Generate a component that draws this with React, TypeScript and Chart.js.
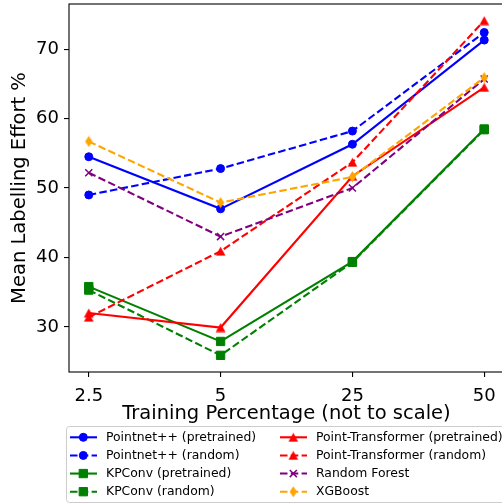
import React, { useEffect, useRef } from 'react';
import { Chart, registerables } from 'chart.js';
import { drawPoint } from 'chart.js/helpers';

Chart.register(...registerables);

const categories = ['2.5', '5', '25', '50'];
const yTicks = [30, 40, 50, 60, 70];

const pointnetPretrained = [54.5, 47.0, 56.3, 71.3];
const pointnetRandom = [49.0, 52.8, 58.2, 72.4];
const kpconvPretrained = [35.8, 27.9, 39.4, 58.5];
const kpconvRandom = [35.3, 25.9, 39.3, 58.4];
const ptPretrained = [32.0, 29.9, 51.7, 64.5];
const ptRandom = [31.4, 40.9, 53.7, 74.1];
const randomForest = [52.2, 43.0, 50.0, 65.7];
const xgboost = [56.7, 47.9, 51.6, 65.9];

const FONT = 'DejaVu Sans';
const DASH = [7.5, 3.3];

function makeTriangle(color: string) {
  const c = document.createElement('canvas');
  c.width = 11;
  c.height = 10;
  const g = c.getContext('2d')!;
  g.fillStyle = color;
  g.beginPath();
  g.moveTo(5.5, 0.5);
  g.lineTo(10.4, 9.5);
  g.lineTo(0.6, 9.5);
  g.closePath();
  g.fill();
  return c;
}

function makeThinDiamond(color: string) {
  const c = document.createElement('canvas');
  c.width = 9;
  c.height = 12;
  const g = c.getContext('2d')!;
  g.fillStyle = color;
  g.beginPath();
  g.moveTo(4.5, 0.6);
  g.lineTo(8.2, 6);
  g.lineTo(4.5, 11.4);
  g.lineTo(0.8, 6);
  g.closePath();
  g.fill();
  return c;
}

type Series = {
  label: string;
  values: number[];
  color: string;
  dashed: boolean;
  marker: string;
};

const series: Series[] = [
  { label: 'Pointnet++ (pretrained)', values: pointnetPretrained, color: '#0000ff', dashed: false, marker: 'circle' },
  { label: 'Pointnet++ (random)', values: pointnetRandom, color: '#0000ff', dashed: true, marker: 'circle' },
  { label: 'KPConv (pretrained)', values: kpconvPretrained, color: '#008000', dashed: false, marker: 'rect' },
  { label: 'KPConv (random)', values: kpconvRandom, color: '#008000', dashed: true, marker: 'rect' },
  { label: 'Point-Transformer (pretrained)', values: ptPretrained, color: '#ff0000', dashed: false, marker: 'triangle' },
  { label: 'Point-Transformer (random)', values: ptRandom, color: '#ff0000', dashed: true, marker: 'triangle' },
  { label: 'Random Forest', values: randomForest, color: '#800080', dashed: true, marker: 'crossRot' },
  { label: 'XGBoost', values: xgboost, color: '#ffa500', dashed: true, marker: 'diamond' },
];

function markerProps(marker: string, color: string) {
  if (marker === 'circle') return { pointStyle: 'circle', radius: 4, borderWidth: 1 };
  if (marker === 'rect') return { pointStyle: 'rect', radius: 5.9, borderWidth: 1 };
  if (marker === 'triangle') return { pointStyle: makeTriangle(color), radius: 5, borderWidth: 0 };
  if (marker === 'crossRot') return { pointStyle: 'crossRot', radius: 5, borderWidth: 1.5 };
  return { pointStyle: makeThinDiamond(color), radius: 5, borderWidth: 0 };
}

const framePlugin = {
  id: 'frame',
  afterDatasetsDraw(chart: any) {
    const { ctx, chartArea } = chart;
    ctx.save();
    ctx.strokeStyle = '#000';
    ctx.lineWidth = 1.1;
    ctx.strokeRect(chartArea.left, chartArea.top, chartArea.right - chartArea.left, chartArea.bottom - chartArea.top);
    ctx.restore();
  },
};

const legendPlugin = {
  id: 'customLegend',
  afterDraw(chart: any) {
    const { ctx } = chart;
    ctx.save();
    ctx.fillStyle = 'rgba(255,255,255,0.8)';
    ctx.strokeStyle = '#cccccc';
    ctx.lineWidth = 1;
    ctx.beginPath();
    (ctx as any).roundRect(66.5, 426.5, 445, 76, 3);
    ctx.fill();
    ctx.stroke();
    chart.data.datasets.forEach((ds: any, k: number) => {
      const col = Math.floor(k / 4);
      const row = k % 4;
      const x0 = col === 0 ? 70 : 280;
      const y = 437.3 + row * 18.13;
      ctx.strokeStyle = ds.borderColor;
      ctx.lineWidth = ds.borderWidth;
      ctx.setLineDash(ds.borderDash || []);
      ctx.beginPath();
      ctx.moveTo(x0, y);
      ctx.lineTo(x0 + 27, y);
      ctx.stroke();
      ctx.setLineDash([]);
      ctx.fillStyle = ds.pointBackgroundColor;
      ctx.strokeStyle = ds.pointBorderColor;
      ctx.lineWidth = ds.pointBorderWidth;
      drawPoint(ctx, { pointStyle: ds.pointStyle, rotation: 0, radius: ds.pointRadius, borderWidth: ds.pointBorderWidth } as any, x0 + 13.3, y);
      ctx.fillStyle = '#000';
      ctx.font = `12.4px "${FONT}"`;
      ctx.textBaseline = 'middle';
      ctx.textAlign = 'left';
      ctx.fillText(ds.label, x0 + 36, y);
    });
    ctx.restore();
  },
};

export default function App() {
  const ref = useRef<HTMLCanvasElement>(null);
  useEffect(() => {
    const n = series.length;
    const datasets = series.map((s, i) => {
      const m = markerProps(s.marker, s.color);
      return {
        label: s.label,
        data: s.values.map((v, j) => ({ x: j, y: v })),
        borderColor: s.color,
        backgroundColor: s.color,
        borderWidth: 2.1,
        borderDash: s.dashed ? DASH : [],
        pointStyle: m.pointStyle as any,
        pointRadius: m.radius,
        pointHoverRadius: m.radius,
        pointBorderWidth: m.borderWidth,
        pointBackgroundColor: s.color,
        pointBorderColor: s.color,
        tension: 0,
        order: n - i,
        clip: false as any,
      };
    });
    const tickFont = { family: FONT, size: 18 };
    const titleFont = { family: FONT, size: 19.5 };
    const chart = new Chart(ref.current!, {
      type: 'line',
      data: { datasets },
      options: {
        responsive: false,
        devicePixelRatio: 1,
        animation: false,
        events: [],
        layout: { autoPadding: false, padding: { top: 4, right: 2, bottom: 78.8, left: 0 } },
        plugins: { legend: { display: false }, tooltip: { enabled: false } },
        scales: {
          x: {
            type: 'linear',
            min: -0.15,
            max: 3.15,
            afterBuildTicks: (s: any) => {
              s.ticks = categories.map((_, i) => ({ value: i }));
            },
            afterFit: (s: any) => {
              s.height = 53.2;
              s.paddingLeft = 0;
              s.paddingRight = 0;
            },
            ticks: {
              callback: (v: any) => categories[v as number],
              font: tickFont,
              color: '#000',
              padding: 8.5,
              maxRotation: 0,
              autoSkip: false,
            },
            grid: { drawOnChartArea: false, drawTicks: true, tickLength: 5, color: '#000', lineWidth: 1.1 },
            border: { display: false },
            title: {
              display: true,
              text: 'Training Percentage (not to scale)',
              font: titleFont,
              color: '#000',
              padding: { top: 0, bottom: 0 },
            },
          },
          y: {
            type: 'linear',
            min: 23.5,
            max: 76.5,
            afterBuildTicks: (s: any) => {
              s.ticks = yTicks.map((v) => ({ value: v }));
            },
            afterFit: (s: any) => {
              s.width = 69;
              s.paddingTop = 0;
              s.paddingBottom = 0;
            },
            ticks: { font: tickFont, color: '#000', padding: 5 },
            grid: { drawOnChartArea: false, drawTicks: true, tickLength: 5, color: '#000', lineWidth: 1.1 },
            border: { display: false },
            title: {
              display: true,
              text: 'Mean Labelling Effort %',
              font: titleFont,
              color: '#000',
              padding: { top: 8, bottom: 0 },
            },
          },
        },
      },
      plugins: [framePlugin, legendPlugin],
    } as any);
    return () => chart.destroy();
  }, []);
  return (
    <div style={{ position: 'fixed', left: 0, top: 0, width: 502, height: 504, overflow: 'hidden', background: '#fff' }}>
      <canvas ref={ref} width={506} height={504} style={{ width: 506, height: 504, display: 'block' }} />
    </div>
  );
}
